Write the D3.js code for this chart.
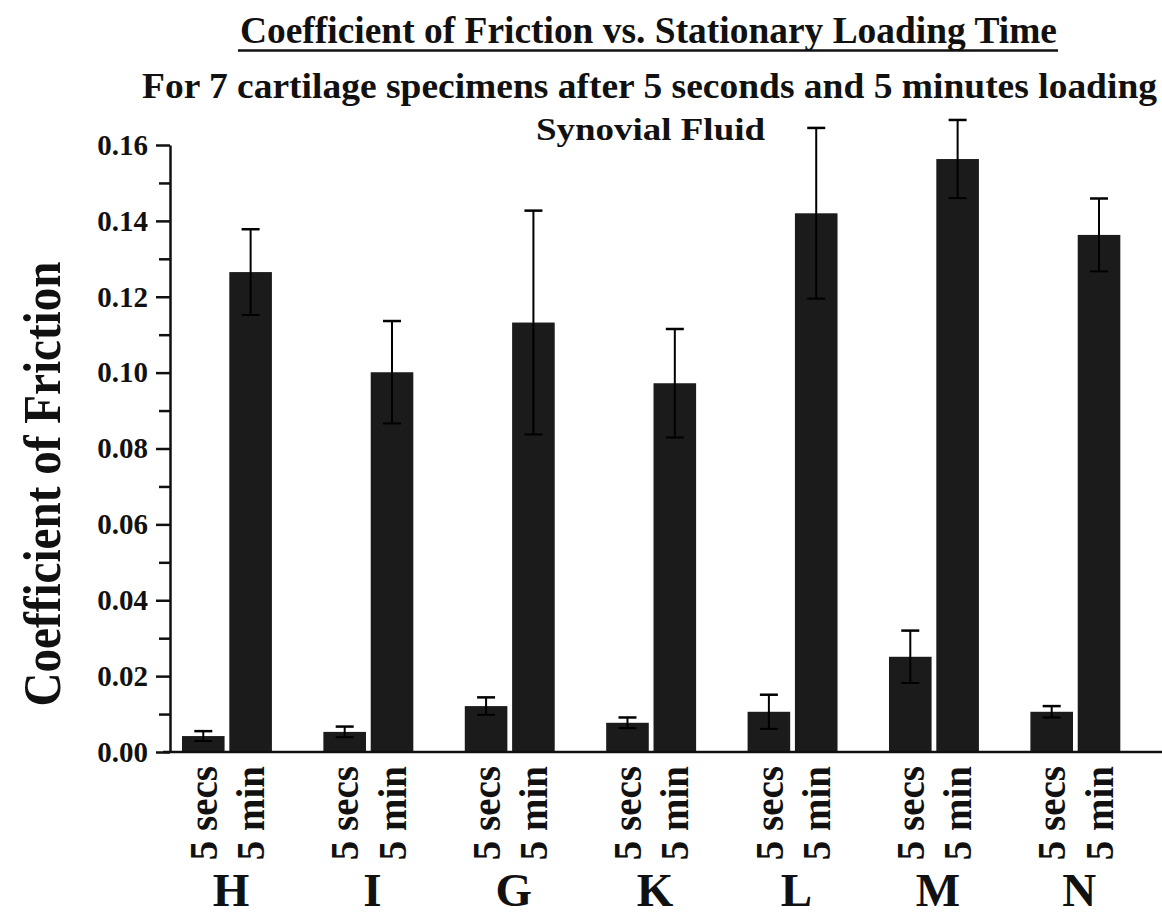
<!DOCTYPE html>
<html>
<head>
<meta charset="utf-8">
<script src="https://cdn.jsdelivr.net/npm/d3@7"></script>
<style>
  html, body { margin: 0; padding: 0; background: #fff; }
  svg { display: block; }
  text { font-family: "Liberation Serif", "Times New Roman", serif; font-weight: bold; fill: #111; }
</style>
</head>
<body>
<svg id="chart" width="1162" height="916"></svg>
<script>
// ---- data ----
const groups = ["H", "I", "G", "K", "L", "M", "N"];
const conditions = ["5 secs", "5 min"];
const secsMean = [0.0042, 0.0053, 0.0121, 0.0077, 0.0106, 0.0251, 0.0106];
const secsErr  = [0.0013, 0.0014, 0.0023, 0.0014, 0.0045, 0.0069, 0.0015];
const minMean  = [0.1265, 0.1001, 0.1132, 0.0972, 0.1420, 0.1563, 0.1363];
const minErr   = [0.0113, 0.0135, 0.0295, 0.0143, 0.0225, 0.0103, 0.0096];
const yTicks = [0, 0.02, 0.04, 0.06, 0.08, 0.10, 0.12, 0.14, 0.16];
const yTickLabels = ["0.00", "0.02", "0.04", "0.06", "0.08", "0.10", "0.12", "0.14", "0.16"];
const yMinorTicks = [0.01, 0.03, 0.05, 0.07, 0.09, 0.11, 0.13, 0.15];
const titleText = "Coefficient of Friction vs. Stationary Loading Time";
const subtitleText = "For 7 cartilage specimens after 5 seconds and 5 minutes loading";
const subsubText = "Synovial Fluid";
const yTitle = "Coefficient of Friction";

const rows = [];
groups.forEach((g, i) => {
  rows.push({ group: g, cond: conditions[0], value: secsMean[i], err: secsErr[i] });
  rows.push({ group: g, cond: conditions[1], value: minMean[i], err: minErr[i] });
});

const svg = d3.select("#chart");

// ---- scales ----
const y = d3.scaleLinear().domain([0, 0.16]).range([752, 145]);
const x0 = d3.scaleBand().domain(groups).range([153.7, 1148.6])
  .paddingInner(0.364).paddingOuter(0.2);
const x1 = d3.scaleBand().domain(conditions).range([0, x0.bandwidth()])
  .paddingInner(0.1).paddingOuter(0);

// ---- titles ----
svg.append("text").attr("x", 240).attr("y", 43)
  .attr("font-size", 37).attr("textLength", 817).attr("lengthAdjust", "spacingAndGlyphs")
  .text(titleText);
svg.append("line").attr("x1", 238).attr("x2", 1058).attr("y1", 50.5).attr("y2", 50.5)
  .attr("stroke", "#111").attr("stroke-width", 2.5);
svg.append("text").attr("x", 142).attr("y", 98)
  .attr("font-size", 35).attr("textLength", 1015).attr("lengthAdjust", "spacingAndGlyphs")
  .text(subtitleText);
svg.append("text").attr("x", 536).attr("y", 140)
  .attr("font-size", 32).attr("textLength", 229).attr("lengthAdjust", "spacingAndGlyphs")
  .text(subsubText);

// y-axis title
svg.append("text")
  .attr("transform", "translate(60,484) rotate(-90)")
  .attr("text-anchor", "middle")
  .attr("font-size", 52)
  .attr("textLength", 445).attr("lengthAdjust", "spacingAndGlyphs")
  .text(yTitle);

// ---- bars ----
const gGroups = svg.append("g").selectAll("g").data(groups).join("g")
  .attr("transform", d => `translate(${x0(d)},0)`);

gGroups.selectAll("rect")
  .data(g => rows.filter(r => r.group === g))
  .join("rect")
  .attr("x", d => x1(d.cond))
  .attr("width", x1.bandwidth())
  .attr("y", d => y(d.value))
  .attr("height", d => y(0) - y(d.value))
  .attr("fill", "#1b1b1b");

// error bars
const eb = gGroups.selectAll("g.err")
  .data(g => rows.filter(r => r.group === g))
  .join("g").attr("class", "err")
  .attr("transform", d => `translate(${x1(d.cond) + x1.bandwidth() / 2},0)`);
eb.append("line")
  .attr("x1", 0).attr("x2", 0)
  .attr("y1", d => y(Math.max(0, d.value - d.err)))
  .attr("y2", d => y(d.value + d.err))
  .attr("stroke", "#000").attr("stroke-width", 2);
eb.append("line")
  .attr("x1", -9).attr("x2", 9)
  .attr("y1", d => y(d.value + d.err)).attr("y2", d => y(d.value + d.err))
  .attr("stroke", "#000").attr("stroke-width", 2.5);
eb.append("line")
  .attr("x1", -9).attr("x2", 9)
  .attr("y1", d => y(Math.max(0, d.value - d.err))).attr("y2", d => y(Math.max(0, d.value - d.err)))
  .attr("stroke", "#000").attr("stroke-width", 2);

// ---- y axis ----
const yAxis = d3.axisLeft(y).tickValues(yTicks)
  .tickFormat((d, i) => yTickLabels[i])
  .tickSize(14).tickSizeOuter(0).tickPadding(8);
const ga = svg.append("g").attr("transform", "translate(170,0)").call(yAxis);
ga.select(".domain").attr("stroke", "#111").attr("stroke-width", 2.5);
ga.selectAll(".tick line").attr("stroke", "#111").attr("stroke-width", 2.5);
ga.selectAll(".tick text")
  .attr("font-size", 29).attr("font-family", "Liberation Serif, Times New Roman, serif")
  .attr("font-weight", "bold").attr("fill", "#111");

const yMinor = d3.axisLeft(y).tickValues(yMinorTicks).tickFormat("").tickSize(11).tickSizeOuter(0);
const gm = svg.append("g").attr("transform", "translate(170,0)").call(yMinor);
gm.select(".domain").remove();
gm.selectAll(".tick line").attr("stroke", "#111").attr("stroke-width", 2.5);

// ---- x axis line ----
svg.append("line").attr("x1", 163).attr("x2", 1162)
  .attr("y1", y(0)).attr("y2", y(0))
  .attr("stroke", "#111").attr("stroke-width", 2.5);

// ---- x labels ----
gGroups.selectAll("text.cond")
  .data(g => rows.filter(r => r.group === g))
  .join("text").attr("class", "cond")
  .attr("transform", d => `translate(${x1(d.cond) + x1.bandwidth() / 2},766) rotate(-90)`)
  .attr("text-anchor", "end")
  .attr("dy", "0.35em")
  .attr("font-size", 39)
  .text(d => d.cond);

gGroups.append("text")
  .attr("x", x0.bandwidth() / 2 + 4)
  .attr("y", 906)
  .attr("text-anchor", "middle")
  .attr("font-size", 47)
  .text(d => d);
</script>
</body>
</html>
